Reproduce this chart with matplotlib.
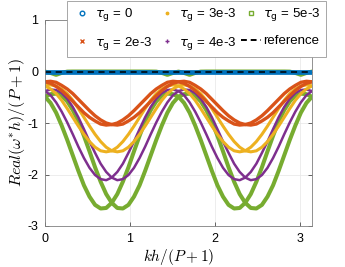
import numpy as np
import matplotlib
matplotlib.use("Agg")
import matplotlib.pyplot as plt
from matplotlib.lines import Line2D

plt.rcParams["font.family"] = ["Liberation Sans", "DejaVu Sans"]
plt.rcParams["axes.unicode_minus"] = False

# ---- data (49 samples over kh/(P+1) in [0, pi]) ----
kh = np.linspace(0, np.pi, 49)

tau_labels = ["0", "2e-3", "3e-3", "4e-3", "5e-3"]

# tau_g = 0 : no dissipation
real_tau0 = np.zeros(49)

# tau_g = 2e-3 (first branch, second branch is its mirror image)
real_tau2 = [-0.20, -0.23, -0.29, -0.37, -0.47, -0.58, -0.69, -0.80, -0.89, -0.96, -1.02, -1.04,
             -1.03, -1.00, -0.94, -0.86, -0.76, -0.65, -0.54, -0.43, -0.34, -0.27, -0.21, -0.19,
             -0.20, -0.23, -0.29, -0.37, -0.47, -0.58, -0.69, -0.80, -0.89, -0.96, -1.02, -1.04,
             -1.03, -1.00, -0.94, -0.86, -0.76, -0.65, -0.54, -0.43, -0.34, -0.27, -0.21, -0.19,
             -0.20]

# tau_g = 3e-3
real_tau3 = [-0.28, -0.34, -0.43, -0.56, -0.72, -0.89, -1.06, -1.22, -1.36, -1.47, -1.54, -1.56,
             -1.54, -1.47, -1.36, -1.22, -1.06, -0.89, -0.72, -0.56, -0.43, -0.34, -0.28, -0.26,
             -0.28, -0.34, -0.43, -0.56, -0.72, -0.89, -1.06, -1.22, -1.36, -1.47, -1.54, -1.56,
             -1.54, -1.47, -1.36, -1.22, -1.06, -0.89, -0.72, -0.56, -0.43, -0.34, -0.28, -0.26,
             -0.28]

# tau_g = 4e-3
real_tau4 = [-0.38, -0.46, -0.60, -0.78, -0.99, -1.22, -1.46, -1.68, -1.87, -2.01, -2.09, -2.11,
             -2.06, -1.95, -1.79, -1.58, -1.36, -1.12, -0.89, -0.69, -0.53, -0.42, -0.36, -0.35,
             -0.38, -0.46, -0.60, -0.78, -0.99, -1.22, -1.46, -1.68, -1.87, -2.01, -2.09, -2.11,
             -2.06, -1.95, -1.79, -1.58, -1.36, -1.12, -0.89, -0.69, -0.53, -0.42, -0.36, -0.35,
             -0.38]

# tau_g = 5e-3
real_tau5 = [-0.49, -0.61, -0.80, -1.05, -1.33, -1.63, -1.93, -2.21, -2.43, -2.59, -2.66, -2.65,
             -2.55, -2.38, -2.14, -1.86, -1.55, -1.25, -0.97, -0.75, -0.58, -0.47, -0.43, -0.44,
             -0.49, -0.61, -0.80, -1.05, -1.33, -1.63, -1.93, -2.21, -2.43, -2.59, -2.66, -2.65,
             -2.55, -2.38, -2.14, -1.86, -1.55, -1.25, -0.97, -0.75, -0.58, -0.47, -0.43, -0.44,
             -0.49]

# tau_g = 5e-3, near-zero mode (only peeks out below the tau_g = 0 line)
real_tau5_small = [-0.002, -0.028, -0.065, -0.027, -0.002, 0, 0, 0, 0, 0, 0, 0,
                   0, 0, 0, 0, 0, 0, 0, 0, -0.002, -0.027, -0.065, -0.028,
                   -0.002, -0.028, -0.065, -0.027, -0.002, 0, 0, 0, 0, 0, 0, 0,
                   0, 0, 0, 0, 0, 0, 0, 0, -0.002, -0.027, -0.065, -0.028,
                   -0.002]

reference = np.zeros(49)

# ---- style ----
colors = ["#0072BD", "#D95319", "#EDB120", "#7E2F8E", "#77AC30"]
markers = ["o", "x", ".", "+", "s"]

fig = plt.figure(figsize=(3.45, 2.67), dpi=100)
ax = fig.add_axes([45 / 345, 1 - 226 / 267, 267 / 345, 206 / 267])

# draw the heavier dissipation first so the lighter ones sit on top
series = [(real_tau5, colors[4], 2.9), (real_tau4, colors[3], 1.8),
          (real_tau3, colors[2], 2.2), (real_tau2, colors[1], 2.4)]
for y, col, lw in series:
    y = np.asarray(y)
    ax.plot(kh, y, color=col, lw=lw, solid_capstyle="round")
    ax.plot(kh, y[::-1], color=col, lw=lw, solid_capstyle="round")  # mirrored branch
ax.plot(kh, real_tau5_small, color=colors[4], lw=2.9)

ax.plot(kh, real_tau0, color=colors[0], lw=3.4)
ax.plot(kh, reference, color="k", lw=1.1, ls=(0, (4, 3)))

ax.set_xlim(0, np.pi)
ax.set_ylim(-3, 1)
ax.set_xticks([0, 1, 2, 3])
ax.set_yticks([-3, -2, -1, 0, 1])
ax.tick_params(direction="in", length=3, width=0.6, labelsize=9, color="0.3", pad=5,
               top=True, right=True)
ax.grid(True, color="0.9", lw=0.5)
ax.set_axisbelow(True)
for s in ax.spines.values():
    s.set_color("0.5")
    s.set_linewidth(0.6)

ax.set_xlabel("$kh/(P+1)$", fontsize=11, math_fontfamily="cm", labelpad=1.5)
ax.set_ylabel(r"$Real(\omega^{*}h)/(P+1)$", fontsize=11.5, math_fontfamily="cm", labelpad=0)

# legend: marker-only entries like the original
handles = []
for col, m in zip(colors, markers):
    if m in ("o", "s"):
        handles.append(Line2D([], [], ls="none", marker=m, ms=3.3, mfc="none", mec=col, mew=1.0))
    else:
        handles.append(Line2D([], [], ls="none", marker=m, ms=3.5, mfc=col, mec=col, mew=1.0))
handles.append(Line2D([], [], color="k", lw=1.4, ls=(0, (3, 2))))
labels = [r"$\tau_\mathrm{g}$ = " + t for t in tau_labels] + ["reference"]

leg = fig.legend(handles, labels, ncol=3, loc="upper right", bbox_to_anchor=(326 / 345, 1 - 1 / 267),
                 fontsize=9.5, frameon=True, fancybox=False, framealpha=1, edgecolor="0.6",
                 handlelength=1.5, handletextpad=0.2, columnspacing=0.35, labelspacing=0.9,
                 borderpad=0.4, borderaxespad=0)
leg.get_frame().set_linewidth(0.6)

fig.savefig("out.png", dpi=100)
